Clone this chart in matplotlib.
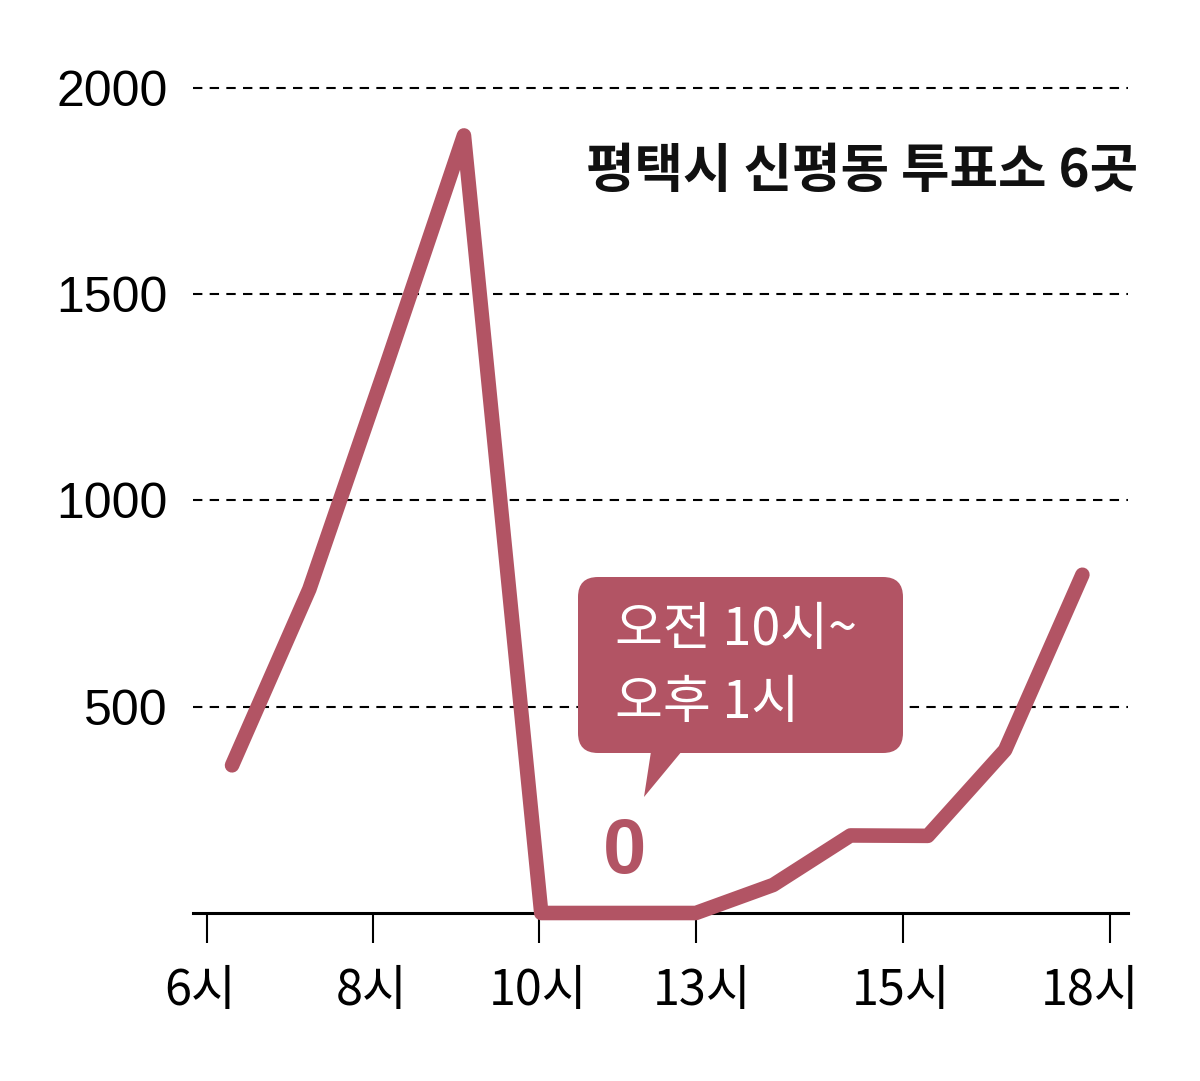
import matplotlib
matplotlib.use('Agg')
import matplotlib.pyplot as plt
from matplotlib.patches import FancyBboxPatch, Polygon
from matplotlib.transforms import IdentityTransform, ScaledTranslation

# ---- data ----
point_idx = list(range(12))
voters = [358, 785, 1330, 1885, 0, 0, 0, 68, 188, 187, 395, 820]
y_ticks = [500, 1000, 1500, 2000]
y_tick_labels = ['500', '1000', '1500', '2000']
x_tick_labels = ['6시', '8시', '10시', '13시', '15시', '18시']
x_tick_pos = [-0.32, 1.82, 3.97, 6.0, 8.68, 11.36]
x_label_nudge_px = [-7, -1, -1, 6, -2, -20]
title_text = '평택시 신평동 투표소 6곳'
note_lines = ['오전 10시~', '오후 1시']
zero_text = '0'

# ---- style ----
W, H = 1200, 1081
LINE_C = '#B25464'
KR = ['Noto Sans CJK KR', 'DejaVu Sans']
plt.rcParams['font.family'] = KR

fig = plt.figure(figsize=(W / 100, H / 100), dpi=100)
fig.patch.set_facecolor('white')
ax = fig.add_axes([193 / W, 1 - 913 / H, (1128 - 193) / W, (913 - 88) / H])
ax.set_xlim(-0.505, 11.59)
ax.set_ylim(0, 2000)

for v in y_ticks:
    ax.axhline(v, color='black', lw=1.5, ls=(0, (4.5, 3.5)), zorder=1, clip_on=False)

ax.plot(point_idx, voters, color=LINE_C, lw=10.5, solid_capstyle='round',
        solid_joinstyle='round', zorder=3, clip_on=False)

for s in ['top', 'right', 'left']:
    ax.spines[s].set_visible(False)
ax.spines['bottom'].set_linewidth(2.2)
ax.spines['bottom'].set_zorder(2)

ax.set_yticks(y_ticks)
ax.set_yticklabels(y_tick_labels, family=['Liberation Sans'], fontsize=36)
ax.tick_params(axis='y', length=0, pad=18)

ax.set_xticks(x_tick_pos)
ax.set_xticklabels(x_tick_labels, fontsize=35)
ax.tick_params(axis='x', direction='out', length=21.5, width=1.5, pad=17)
for lab, dx in zip(ax.get_xticklabels(), x_label_nudge_px):
    lab.set_transform(lab.get_transform() + ScaledTranslation(dx / 100, 0, fig.dpi_scale_trans))
ax.set_facecolor('none')

# title
fig.text(1138 / W, 1 - 172 / H, title_text, ha='right', va='center',
         fontsize=38, fontweight='bold', color='#111111')

# callout box (pixel coordinates)
ident = IdentityTransform()
box = FancyBboxPatch((578 + 20, H - 753 + 20), 903 - 578 - 40, 753 - 577 - 40,
                     boxstyle='round,pad=20,rounding_size=20',
                     transform=ident, facecolor=LINE_C, edgecolor='none', zorder=5)
fig.patches.append(box)
tri = Polygon([(652, H - 745), (687, H - 745), (644, H - 797)], closed=True,
              transform=ident, facecolor=LINE_C, edgecolor='none', zorder=5)
fig.patches.append(tri)
fig.text(615 / W, 1 - 630 / H, note_lines[0], ha='left', va='center',
         fontsize=37.5, color='white', zorder=6)
fig.text(615 / W, 1 - 703 / H, note_lines[1], ha='left', va='center',
         fontsize=37.5, color='white', zorder=6)

fig.text(625 / W, 1 - 852 / H, zero_text, ha='center', va='center',
         fontsize=56, fontweight='bold', color=LINE_C, family=['Liberation Sans'])

fig.savefig('out.png', dpi=100)
